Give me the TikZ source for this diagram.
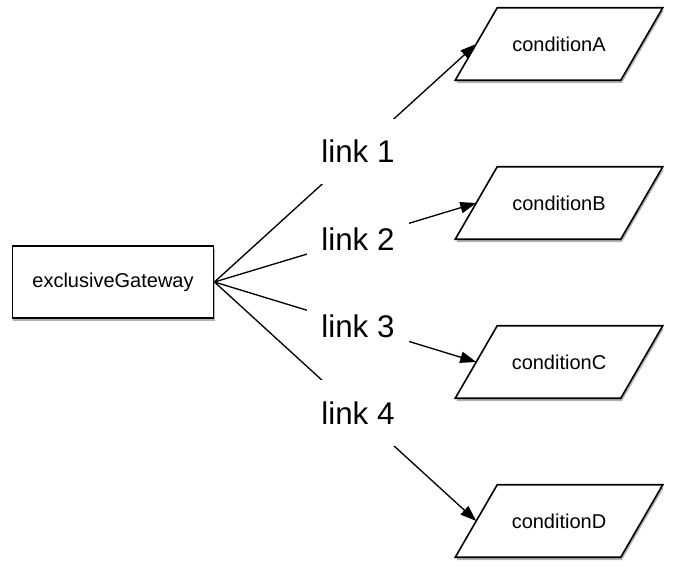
\documentclass[tikz,border=0pt]{standalone}
\usepackage{fontspec}
\setmainfont{Liberation Sans}
\usetikzlibrary{arrows.meta,shadows,backgrounds}
\begin{document}
\begin{tikzpicture}[x=0.75pt,y=-0.75pt,
	shade/.style={drop shadow={shadow xshift=0.8pt, shadow yshift=-2.2pt, fill=black, opacity=0.3}},
	gate/.style={draw, line width=1.2pt, fill=white, shade, minimum width=151pt, minimum height=54pt, font=\fontsize{15}{18}\selectfont},
	cond/.style={minimum width=123.75pt, minimum height=54pt, font=\fontsize{15}{18}\selectfont},
	slab/.style={draw, line width=1.2pt, fill=white, shade},
	link/.style={line width=1pt},
	lbl/.style={fill=white, minimum width=76pt, minimum height=49pt, inner sep=0pt, font=\fontsize{23.5}{27}\selectfont},
	tip/.style={-{Triangle[length=12pt,width=8.5pt]}}]
	\useasboundingbox (0,0) rectangle (676,574);
	\node[gate] (G) at (113,282) {exclusiveGateway};
	\node[cond] (A) at (559,44) {conditionA};
	\node[cond] (B) at (559,203) {conditionB};
	\node[cond] (C) at (559,362) {conditionC};
	\node[cond] (D) at (559,521) {conditionD};
	% parallelogram outlines behind the texts
	\begin{scope}[on background layer]
		\foreach \n in {A,B,C,D}
			\draw[slab] ([xshift=-15.75pt]\n.south west) -- ([xshift=-15.75pt]\n.south east) -- ([xshift=15.75pt]\n.north east) -- ([xshift=15.75pt]\n.north west) -- cycle;
	\end{scope}
	\draw[link, tip] (G.east) -- node[lbl, pos=0.548] {link 1} (A.west);
	\draw[link, tip] (G.east) -- node[lbl, pos=0.548] {link 2} (B.west);
	\draw[link, tip] (G.east) -- node[lbl, pos=0.548] {link 3} (C.west);
	\draw[link, tip] (G.east) -- node[lbl, pos=0.548] {link 4} (D.west);
\end{tikzpicture}
\end{document}
